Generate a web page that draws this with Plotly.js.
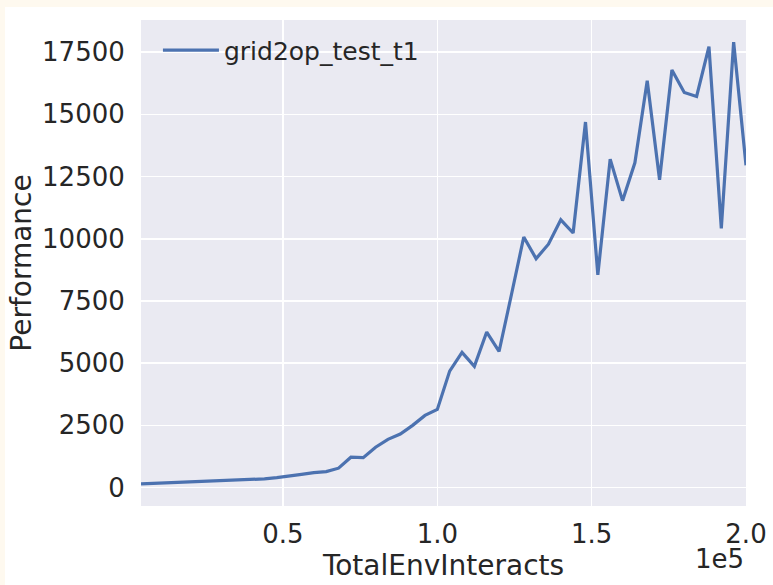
<!DOCTYPE html>
<html>
<head>
<meta charset="utf-8">
<script src="https://cdn.plot.ly/plotly-3.0.1.min.js"></script>
<style>
  html, body { margin: 0; padding: 0; background: #FEF9EF; width: 773px; height: 585px; overflow: hidden; }
  #chart { position: absolute; left: 5px; top: 7px; width: 768px; height: 578px; background: #ffffff; }
</style>
</head>
<body>
<div id="chart"></div>
<script>
const seriesName = "grid2op_test_t1";
const totalEnvInteracts = [
  4000, 8000, 12000, 16000, 20000, 24000, 28000, 32000, 36000, 40000,
  44000, 48000, 52000, 56000, 60000, 64000, 68000, 72000, 76000, 80000,
  84000, 88000, 92000, 96000, 100000, 104000, 108000, 112000, 116000, 120000,
  124000, 128000, 132000, 136000, 140000, 144000, 148000, 152000, 156000, 160000,
  164000, 168000, 172000, 176000, 180000, 184000, 188000, 192000, 196000, 200000
];
const performance = [
  150, 170, 190, 205, 220, 235, 255, 270, 290, 320,
  350, 400, 450, 530, 600, 640, 780, 1220, 1200, 1620,
  1940, 2150, 2500, 2900, 3140, 4680, 5430, 4870, 6250, 5470,
  7750, 10070, 9200, 9780, 10760, 10230, 14690, 8550, 13200, 11530,
  13050, 16350, 12370, 16780, 15880, 15720, 17720, 10420, 17900, 12950
];
const xTickVals = [50000, 100000, 150000, 200000];
const xTickText = ["0.5", "1.0", "1.5", "2.0"];
const yTickVals = [0, 2500, 5000, 7500, 10000, 12500, 15000, 17500];
const yTickText = ["0", "2500", "5000", "7500", "10000", "12500", "15000", "17500"];
const xLabel = "TotalEnvInteracts";
const yLabel = "Performance";
const xOffsetText = "1e5";

const textColor = "#262626";
const fontFamily = "DejaVu Sans, sans-serif";

const trace = {
  x: totalEnvInteracts,
  y: performance,
  type: "scatter",
  mode: "lines",
  name: seriesName,
  line: { color: "#4C72B0", width: 3.2 },
  showlegend: true
};

const layout = {
  width: 768,
  height: 578,
  margin: { l: 136, r: 27, t: 13, b: 79, pad: 0 },
  paper_bgcolor: "#ffffff",
  plot_bgcolor: "#EAEAF2",
  font: { family: fontFamily, color: textColor, size: 26 },
  showlegend: true,
  legend: {
    x: 0.028, y: 0.985, xanchor: "left", yanchor: "top",
    bgcolor: "rgba(0,0,0,0)", borderwidth: 0,
    font: { family: fontFamily, size: 25, color: textColor },
    itemwidth: 56
  },
  xaxis: {
    range: [4000, 200000],
    tickmode: "array",
    tickvals: xTickVals,
    ticktext: xTickText,
    showgrid: true, gridcolor: "#ffffff", gridwidth: 1.6,
    zeroline: false, showline: false,
    ticks: "outside", ticklen: 5, tickcolor: "rgba(0,0,0,0)",
    tickfont: { family: fontFamily, size: 26, color: textColor },
    title: { text: xLabel, font: { family: fontFamily, size: 28, color: textColor }, standoff: 4 }
  },
  yaxis: {
    range: [-740, 18790],
    tickmode: "array",
    tickvals: yTickVals,
    ticktext: yTickText,
    showgrid: true, gridcolor: "#ffffff", gridwidth: 1.6,
    zeroline: false, showline: false,
    ticks: "outside", ticklen: 10, tickcolor: "rgba(0,0,0,0)",
    tickfont: { family: fontFamily, size: 26, color: textColor },
    title: { text: yLabel, font: { family: fontFamily, size: 28, color: textColor }, standoff: 4 }
  },
  annotations: [{
    text: xOffsetText,
    xref: "paper", yref: "paper",
    x: 1, y: 0, xanchor: "right", yanchor: "top",
    yshift: -36,
    showarrow: false,
    font: { family: fontFamily, size: 26, color: textColor }
  }]
};

Plotly.newPlot("chart", [trace], layout, { displayModeBar: false, staticPlot: true });
</script>
</body>
</html>
